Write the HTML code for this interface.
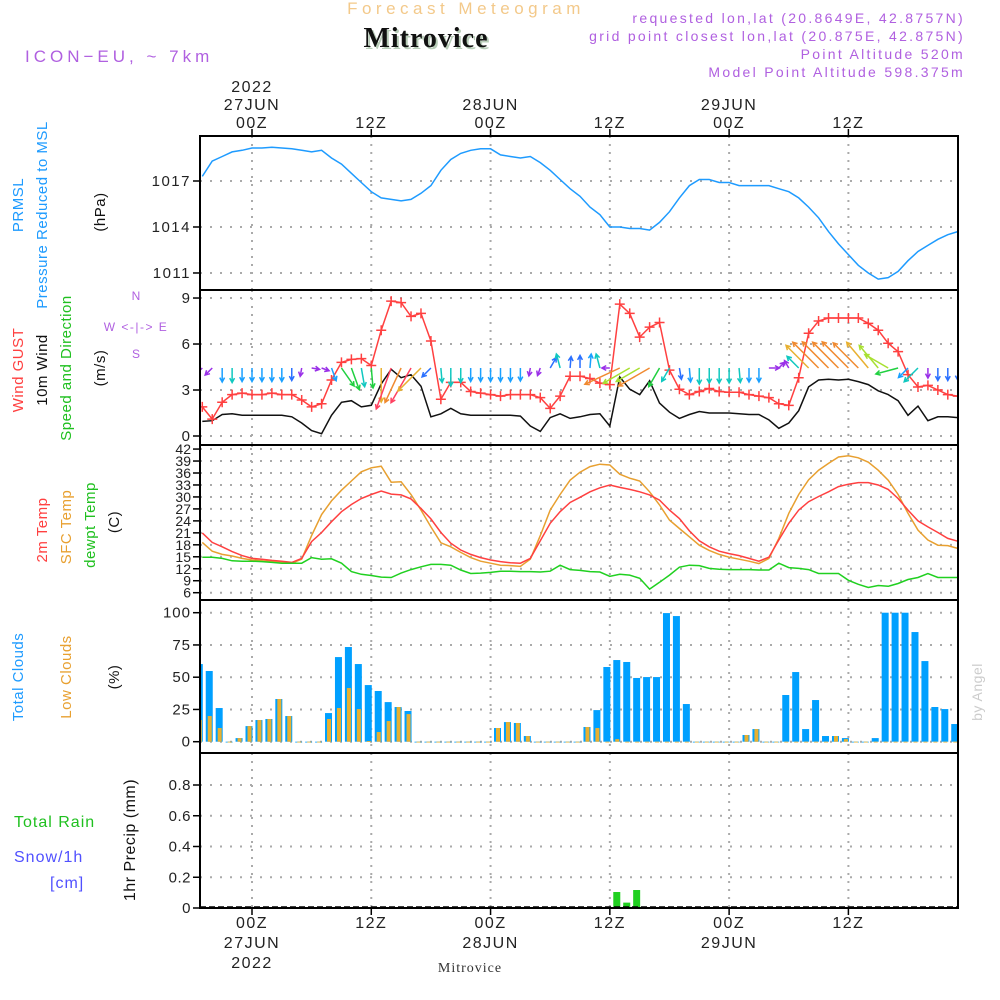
<!DOCTYPE html>
<html><head><meta charset="utf-8"><style>
html,body{margin:0;padding:0;background:#fff;}
svg{display:block;font-family:"Liberation Sans",sans-serif;}
</style></head><body>
<svg id="chart" width="1000" height="1000" viewBox="0 0 1000 1000" xmlns="http://www.w3.org/2000/svg">
<text x="466" y="14" text-anchor="middle" font-size="17" fill="#f3c98a" letter-spacing="4.5">Forecast Meteogram</text>
<text x="428" y="49" text-anchor="middle" font-size="28" font-weight="bold" font-family="Liberation Serif,serif" fill="#b8ccb8" letter-spacing="1">Mitrovice</text>
<text x="426" y="47" text-anchor="middle" font-size="28" font-weight="bold" font-family="Liberation Serif,serif" fill="#111" letter-spacing="1">Mitrovice</text>
<text x="25" y="62" font-size="17" fill="#b060e0" letter-spacing="4">ICON−EU, ~ 7km</text>
<g font-size="14" fill="#b060e0" text-anchor="end" letter-spacing="2.3">
<text x="965" y="23">requested lon,lat (20.8649E, 42.8757N)</text>
<text x="965" y="41">grid point closest lon,lat (20.875E, 42.875N)</text>
<text x="965" y="59">Point Altitude 520m</text>
<text x="965" y="77">Model Point Altitude 598.375m</text>
</g>
<g id="labels" font-size="15" letter-spacing="0.5"></g>
<g id="plot"></g>
</svg>
<script>
// ---- data (hourly, h = -5 .. 71 relative to 27JUN 00Z) ----
const hourStart = -5;
const pressure = [1017.3,1018.3,1018.6,1018.9,1019.0,1019.15,1019.15,1019.2,1019.15,1019.1,1019.0,1018.9,1019.0,1018.5,1018.1,1017.5,1016.9,1016.3,1015.9,1015.8,1015.7,1015.8,1016.2,1016.7,1017.7,1018.4,1018.8,1019.0,1019.1,1019.1,1018.7,1018.6,1018.5,1018.6,1018.2,1017.7,1017.1,1016.5,1016.0,1015.3,1014.8,1014.0,1014.0,1013.9,1013.9,1013.8,1014.3,1015.0,1015.9,1016.7,1017.1,1017.1,1016.9,1016.9,1016.7,1016.7,1016.7,1016.7,1016.5,1016.3,1015.9,1015.3,1014.6,1013.7,1012.9,1012.2,1011.5,1011.0,1010.6,1010.7,1011.1,1011.8,1012.4,1012.8,1013.2,1013.5,1013.7];
const gust = [1.9,1.1,2.2,2.7,2.8,2.7,2.7,2.8,2.7,2.7,2.35,1.9,2.1,3.65,4.8,5.0,5.05,4.6,6.9,8.8,8.7,7.8,8.0,6.2,2.4,3.5,3.5,2.9,2.8,2.7,2.6,2.7,2.7,2.7,2.5,1.8,2.6,3.9,3.9,3.75,3.45,3.35,8.6,8.0,6.45,7.1,7.4,4.3,3.05,2.7,2.9,3.1,2.9,2.85,2.85,2.7,2.6,2.5,2.1,2.0,3.8,6.7,7.5,7.7,7.7,7.7,7.7,7.35,6.9,6.05,5.5,4.0,3.2,3.3,3.0,2.7,2.6];
const windSpeed = [0.95,1.0,1.4,1.45,1.35,1.35,1.35,1.35,1.35,1.25,0.85,0.35,0.15,1.35,2.2,2.3,1.9,2.0,3.4,4.35,3.8,4.0,3.25,1.25,1.45,1.8,1.45,1.35,1.35,1.35,1.35,1.35,1.3,0.65,0.3,1.2,1.45,1.15,1.25,1.4,1.45,0.65,3.85,3.05,2.7,3.6,2.15,1.55,1.15,1.4,1.6,1.5,1.5,1.5,1.45,1.4,1.4,1.05,0.5,0.85,1.65,3.2,3.65,3.7,3.65,3.7,3.55,3.35,2.95,2.7,2.3,1.35,1.95,1.0,1.25,1.25,1.2];
const windDir = [225,225,180,180,180,180,180,180,180,180,190,100,110,160,145,160,170,175,180,200,205,210,225,225,175,180,180,180,180,180,180,180,180,190,200,30,345,5,0,5,345,270,245,240,240,240,210,210,170,175,180,180,180,180,175,180,180,90,45,330,315,315,315,315,315,315,315,320,320,300,255,225,225,180,180,180,180];
const temp2m = [21.0,18.6,17.5,16.3,15.3,14.6,14.4,14.1,13.9,13.6,14.6,18.8,21.1,23.8,26.3,28.1,29.6,30.6,31.5,30.7,30.5,29.5,27.1,24.5,21.1,18.4,16.7,15.6,14.8,14.2,13.8,13.5,13.4,14.6,19.0,23.4,26.3,28.6,29.9,31.3,32.3,33.0,32.4,31.9,31.3,30.5,29.2,26.7,24.6,21.5,19.0,17.5,16.4,15.8,15.3,14.6,13.9,14.9,19.2,23.4,26.7,28.8,30.1,31.3,32.6,33.2,33.6,33.6,33.0,31.9,29.6,26.7,24.0,22.5,21.1,19.6,18.9];
const tempSfc = [18.6,16.4,15.6,15.2,14.6,14.2,14.0,13.8,13.6,13.4,14.4,20.3,25.6,29.0,31.7,34.0,36.3,37.3,37.7,33.7,33.8,30.6,26.7,22.5,18.5,17.5,16.1,14.8,13.9,13.4,12.9,12.8,12.6,14.4,20.3,26.7,30.6,34.2,36.2,37.6,38.2,38.0,35.7,34.7,34.0,31.3,28.0,24.2,22.1,20.0,17.9,16.6,15.6,14.9,14.4,13.9,13.3,14.6,19.6,25.9,30.6,34.3,36.7,38.4,40.0,40.3,39.8,38.7,36.7,34.2,30.6,25.9,21.7,19.2,17.9,17.8,17.1];
const dewpt = [14.9,14.9,14.6,14.0,13.9,13.9,13.8,13.6,13.4,13.4,13.4,14.8,14.4,14.5,13.4,11.3,10.6,10.3,9.9,9.8,10.9,11.8,12.5,13.1,13.1,12.9,11.7,10.8,10.9,11.1,11.4,11.4,11.3,11.3,11.2,11.4,12.9,11.8,11.6,11.3,11.2,10.1,10.6,10.4,9.6,6.9,8.6,10.4,12.4,12.9,12.8,12.1,11.9,11.8,11.8,11.8,11.7,11.7,13.4,12.3,12.1,11.8,10.8,10.8,10.8,9.1,8.1,7.3,7.8,7.6,8.3,9.3,9.8,10.8,9.8,9.8,9.8];
const totalClouds = [60.2,54.8,26.1,0,2.8,12.1,16.8,17.6,33.1,19.9,0,0,0,22.2,65.6,73.4,60.2,43.9,39.3,30.7,26.9,23.8,0,0,0,0,0,0,0,0,10.6,15.2,14.5,4.4,0,0,0,0,0,11.4,24.5,57.9,63.3,61.8,49.4,50.1,50.1,99.7,97.4,29.2,0,0,0,0,0,5.2,9.8,0,0,36.2,54.0,9.8,32.3,4.4,4.4,2.8,0,0,2.8,100,100,100,85.0,62.5,26.9,25.3,13.7];
const lowClouds = [16.8,19.9,10.6,0,2.8,12.1,16.8,17.6,33.1,19.9,0,0,0,17.6,26.1,41.6,25.3,0.5,7.5,16.0,26.9,21.4,0,0,0,0,0,0,0,0,10.6,15.2,14.5,4.4,0,0,0,0,0,11.4,10.6,0,2.0,0,0,0,0,0,0,0,0,0,0,0,0,5.2,9.8,0,0,0,0,0,0,0,4.4,2.0,0,0,0,0,0,0,0,0,0,0,0];
const precip = [0,0,0,0,0,0,0,0,0,0,0,0,0,0,0,0,0,0,0,0,0,0,0,0,0,0,0,0,0,0,0,0,0,0,0,0,0,0,0,0,0,0,0.104,0.035,0.117,0,0,0,0,0,0,0,0,0,0,0,0,0,0,0,0,0,0,0,0,0,0,0,0,0,0,0,0,0,0,0,0];
const pressureTicks = [1011,1014,1017];
const windTicks = [0,3,6,9];
const tempTicks = [6,9,12,15,18,21,24,27,30,33,36,39,42];
const cloudTicks = [0,25,50,75,100];
const precipTicks = [0,0.2,0.4,0.6,0.8];
const timeTickHours = [0,12,24,36,48,60];
const timeTickLabels = ["00Z","12Z","00Z","12Z","00Z","12Z"];
const dateLabels = ["27JUN","","28JUN","","29JUN",""];

// ---- geometry ----
const NS = "http://www.w3.org/2000/svg";
const L = 200, R = 958;
const X = h => 252 + h * 9.94;
const yP = v => 181 - (v - 1017) * 15.33;
const yW = v => 436 - v * 15.33;
const yT = v => 592.7 - (v - 6) * 3.99;
const yC = v => 741.7 - v * 1.29;
const yR = v => 908 - v * 153.75;
const panels = [[136,290],[290,445],[445,600],[600,753],[753,908]];
const plot = document.getElementById('plot');
const labels = document.getElementById('labels');
function mk(tag, attrs, parent) {
  const e = document.createElementNS(NS, tag);
  for (const k in attrs) e.setAttribute(k, attrs[k]);
  (parent || plot).appendChild(e);
  return e;
}
const defs = mk('defs', {});
const cp = mk('clipPath', {id: 'clip'}, defs);
mk('rect', {x: L, y: 136, width: R - L, height: 772}, cp);

// grids
function hgrid(ticks, fy, name, fs, ls) {
  ticks.forEach(t => {
    const g = mk('line', {x1: L, x2: R, y1: fy(t), y2: fy(t), stroke: '#aaa', 'stroke-width': 2, 'stroke-dasharray': '2 8'});
    
    
    const tk = mk('line', {x1: L - 7, x2: L, y1: fy(t), y2: fy(t), stroke: '#000', 'stroke-width': 1.5});
    
    
    const tx = mk('text', {x: L - 9, y: fy(t) + 5, 'text-anchor': 'end', 'font-size': fs, fill: '#222', 'letter-spacing': ls});
    tx.textContent = String(t);
    
    
  });
}
hgrid(pressureTicks, yP, 'pressure', 15, 1.5);
hgrid(windTicks, yW, 'wind', 15, 1);
hgrid(tempTicks, yT, 'temp', 14, 0);
hgrid(cloudTicks, yC, 'cloud', 15, 1);
hgrid(precipTicks, yR, 'precip', 15, 0.5);
timeTickHours.forEach(h => {
  panels.forEach(p => {
    const v = mk('line', {x1: X(h), x2: X(h), y1: p[0], y2: p[1], stroke: '#aaa', 'stroke-width': 2, 'stroke-dasharray': '2 6'});
    
    
  });
  mk('line', {x1: X(h), x2: X(h), y1: 129, y2: 136, stroke: '#000', 'stroke-width': 1.5});
  mk('line', {x1: X(h), x2: X(h), y1: 908, y2: 915, stroke: '#000', 'stroke-width': 1.5});
});
timeTickHours.forEach((h, i) => {
  const t1 = mk('text', {x: X(h), y: 128, 'text-anchor': 'middle', 'font-size': 16, fill: '#222', 'letter-spacing': 1.5});
  t1.textContent = timeTickLabels[i];
  
  
  const t2 = mk('text', {x: X(h), y: 928, 'text-anchor': 'middle', 'font-size': 16, fill: '#222', 'letter-spacing': 1.5});
  t2.textContent = timeTickLabels[i];
  
  
  if (dateLabels[i]) {
    const d1 = mk('text', {x: X(h), y: 110, 'text-anchor': 'middle', 'font-size': 16, fill: '#222', 'letter-spacing': 1.5});
    d1.textContent = dateLabels[i];
    
    
    const d2 = mk('text', {x: X(h), y: 948, 'text-anchor': 'middle', 'font-size': 16, fill: '#222', 'letter-spacing': 1.5});
    d2.textContent = dateLabels[i];
    
    
  }
});
[[92,'top-year-label'],[968,'bottom-year-label']].forEach(a => {
  const y = mk('text', {x: X(0), y: a[0], 'text-anchor': 'middle', 'font-size': 16, fill: '#222', 'letter-spacing': 1.5});
  y.textContent = '2022';
  
  
});

const g = mk('g', {'clip-path': 'url(#clip)'});
function line(arr, fy, color, name, w) {
  const pts = arr.map((v, i) => X(hourStart + i).toFixed(1) + ',' + fy(v).toFixed(1)).join(' ');
  const p = mk('polyline', {points: pts, fill: 'none', stroke: color, 'stroke-width': w || 1.5}, g);
  
  
}
// pressure
line(pressure, yP, '#1e9bff', 'pressure-line');
// wind
line(windSpeed, yW, '#111', 'wind-speed-line');
line(gust, yW, '#ff4040', 'wind-gust-line');
gust.forEach((v, i) => {
  const x = X(hourStart + i), y = yW(v);
  const m = mk('path', {d: `M${x-5},${y}H${x+5}M${x},${y-5}V${y+5}`, stroke: '#ff4040', 'stroke-width': 1.5}, g);
  
  
});
function windColor(s) {
  if (s < 1.1) return '#9a30e8';
  if (s < 1.3) return '#2a70ff';
  if (s < 1.45) return '#1aa0ff';
  if (s < 2.0) return '#10c8c0';
  if (s < 2.5) return '#20d040';
  if (s < 3.1) return '#a8e030';
  if (s < 3.5) return '#e8b030';
  if (s < 3.9) return '#f08a30';
  return '#ff4060';
}
windDir.forEach((d, i) => {
  const s = windSpeed[i];
  const len = Math.max(8, s * 10);
  const x0 = X(hourStart + i), y0 = 368;
  const r = d * Math.PI / 180;
  const x1 = x0 + Math.sin(r) * len, y1 = y0 - Math.cos(r) * len;
  const a1 = r + Math.PI - 0.5, a2 = r + Math.PI + 0.5;
  const hx1 = x1 + Math.sin(a1) * 5, hy1 = y1 - Math.cos(a1) * 5;
  const hx2 = x1 + Math.sin(a2) * 5, hy2 = y1 - Math.cos(a2) * 5;
  const c = windColor(s);
  const ar = mk('path', {d: `M${x0},${y0}L${x1},${y1}M${hx1},${hy1}L${x1},${y1}L${hx2},${hy2}`, stroke: c, 'stroke-width': 1.5, fill: 'none'}, g);
  
  
});
// temperature
line(tempSfc, yT, '#e8a030', 'sfc-temp-line');
line(temp2m, yT, '#ff4040', 'temp-2m-line');
line(dewpt, yT, '#20d020', 'dewpoint-line');
// clouds
totalClouds.forEach((v, i) => {
  const x = X(hourStart + i) - 3;
  const b = mk('rect', {x: x - 3.5, y: yC(v), width: 7, height: Math.max(0.8, yC(0) - yC(v)), fill: '#00a0ff'}, g);
  
  
  const lv = lowClouds[i];
  const o = mk('rect', {x: x - 1.5, y: yC(lv), width: 4, height: Math.max(0.8, yC(0) - yC(lv)), fill: '#e8b030'}, g);
  
  
});
// precip
precip.forEach((v, i) => {
  if (v <= 0) return;
  const x = X(hourStart + i) - 3;
  const b = mk('rect', {x: x - 3.5, y: yR(v), width: 7, height: yR(0) - yR(v), fill: '#20d020'}, g);
  
  
});
mk('line', {x1: L, x2: R, y1: 907, y2: 907, stroke: '#000', 'stroke-width': 1.5, 'stroke-dasharray': '6 3'});

// frames
panels.forEach((p, i) => {
  const f = mk('rect', {x: L, y: p[0], width: R - L, height: p[1] - p[0], fill: 'none', stroke: '#000', 'stroke-width': 2});
  
  
});

// axis labels
function vlabel(text, x, y, color, name, fs) {
  const t = mk('text', {x: x, y: y, transform: `rotate(-90 ${x} ${y})`, 'text-anchor': 'middle', fill: color, 'font-size': fs || 15}, labels);
  t.textContent = text;
  
  
}
function hlabel(text, x, y, color, name, fs, anchor, ls) {
  const t = mk('text', {x: x, y: y, fill: color, 'font-size': fs || 15, 'text-anchor': anchor || 'start', 'letter-spacing': ls === undefined ? 1 : ls}, labels);
  t.textContent = text;
  
  
}
vlabel('PRMSL', 23, 205, '#1e9bff', 'prmsl-label');
vlabel('Pressure Reduced to MSL', 47, 215, '#1e9bff', 'pressure-axis-title');
vlabel('(hPa)', 105, 212, '#111', 'pressure-unit');
vlabel('Wind GUST', 23, 370, '#ff4040', 'gust-label');
vlabel('10m Wind', 47, 370, '#111', 'wind-label');
vlabel('Speed and Direction', 71, 368, '#20c020', 'wind-axis-title');
vlabel('(m/s)', 105, 368, '#111', 'wind-unit');
hlabel('N', 136, 300, '#b060e0', 'compass-n', 12, 'middle', 0);
hlabel('W  <-|->  E', 136, 331, '#b060e0', 'compass-we', 12, 'middle', 1.5);
hlabel('S', 136, 358, '#b060e0', 'compass-s', 12, 'middle', 0);
vlabel('2m Temp', 47, 530, '#ff4040', 'temp-2m-label');
vlabel('SFC Temp', 71, 527, '#e8a030', 'sfc-temp-label');
vlabel('dewpt Temp', 95, 525, '#20c020', 'dewpoint-label');
vlabel('(C)', 119, 522, '#111', 'temp-unit');
vlabel('Total Clouds', 23, 677, '#1e9bff', 'total-clouds-label');
vlabel('Low Clouds', 71, 677, '#e8a030', 'low-clouds-label');
vlabel('(%)', 119, 677, '#111', 'cloud-unit');
hlabel('Total  Rain', 14, 827, '#20c020', 'rain-label', 16);
hlabel('Snow/1h', 14, 862, '#5050ff', 'snow-label', 16);
hlabel('[cm]', 50, 888, '#5050ff', 'snow-unit', 16);
vlabel('1hr Precip (mm)', 135, 840, '#111', 'precip-axis-title', 16);
vlabel('by Angel', 982, 692, '#ccc', 'author-credit', 14);
const ft = mk('text', {x: 470, y: 972, 'text-anchor': 'middle', 'font-size': 14, fill: '#333', 'font-family': 'Liberation Serif,serif', 'letter-spacing': 1}, labels);
ft.textContent = 'Mitrovice';


</script>
</body></html>
